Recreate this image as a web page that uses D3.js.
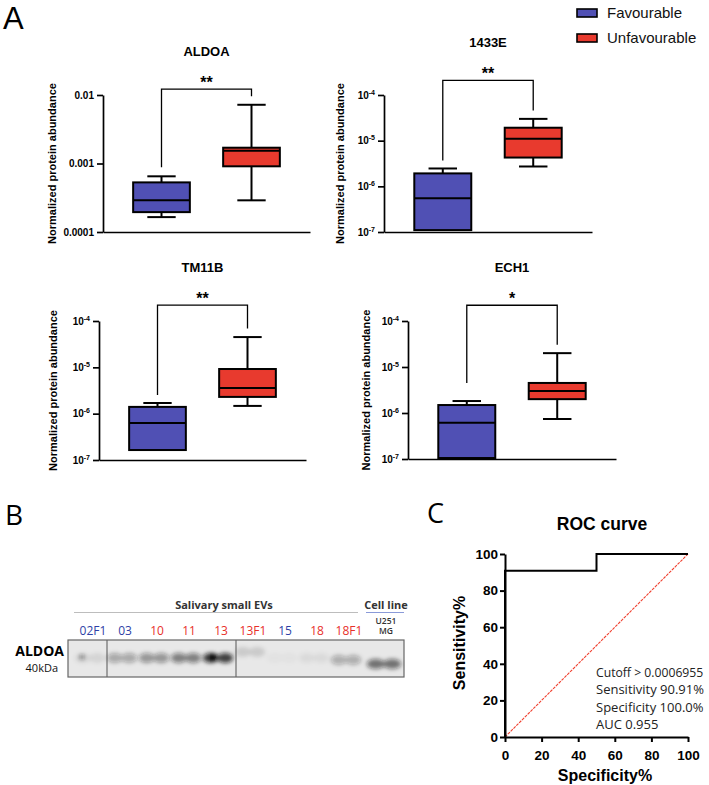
<!DOCTYPE html>
<html><head><meta charset="utf-8">
<script src="https://cdn.jsdelivr.net/npm/d3@7"></script>
<style>body{margin:0;background:#fff}</style>
</head><body><svg id="fig" width="709" height="785"></svg>
<script>
// ---------------- DATA ----------------
const groups = ["Favourable", "Unfavourable"];
const proteins = ["ALDOA", "1433E", "TM11B", "ECH1"];
// five-number summaries: [min, q1, median, q3, max]
const favourableStats = [
  [1.65e-4, 1.95e-4, 2.9e-4, 5.3e-4, 6.5e-4],
  [1.1e-7, 1.1e-7, 5.5e-7, 1.92e-6, 2.46e-6],
  [1.64e-7, 1.64e-7, 6.3e-7, 1.4e-6, 1.7e-6],
  [1.05e-7, 1.05e-7, 6.1e-7, 1.49e-6, 1.82e-6]
];
const unfavourableStats = [
  [2.9e-4, 9.1e-4, 1.54e-3, 1.7e-3, 7.2e-3],
  [2.72e-6, 4.27e-6, 1.1e-5, 1.92e-5, 3.0e-5],
  [1.47e-6, 2.3e-6, 3.6e-6, 9.2e-6, 4.5e-5],
  [7.4e-7, 2.0e-6, 3.0e-6, 4.5e-6, 2.0e-5]
];
const significance = ["**", "**", "**", "*"];
const bracketLevel = [0.0122, 2.1e-4, 2.2e-4, 2.2e-4];
const yDomains = [[1e-4, 1e-2], [1e-7, 1e-4], [1e-7, 1e-4], [1e-7, 1e-4]];
const yTickValues = [[1e-4, 1e-3, 1e-2], [1e-7, 1e-6, 1e-5, 1e-4], [1e-7, 1e-6, 1e-5, 1e-4], [1e-7, 1e-6, 1e-5, 1e-4]];
const aldoaTickLabels = ["0.0001", "0.001", "0.01"];
const yAxisTitle = "Normalized protein abundance";

// Western blot
const laneLabels = ["02F1", "03", "10", "11", "13", "13F1", "15", "18", "18F1"];
const laneGroup = ["Favourable", "Favourable", "Unfavourable", "Unfavourable", "Unfavourable", "Unfavourable", "Favourable", "Unfavourable", "Unfavourable"];
const laneIntensity = [0.1, 0.36, 0.46, 0.58, 0.92, 0.15, 0.03, 0.07, 0.33];
const cellLineLabel = ["U251", "MG"];
const cellLineIntensity = 0.66;

// ROC
const rocSpecificity = [0, 0, 50, 50, 100];
const rocSensitivity = [0, 90.91, 90.91, 100, 100];
const refSpecificity = [0, 100];
const refSensitivity = [0, 100];
const rocTicks = [0, 20, 40, 60, 80, 100];
const rocStats = ["Cutoff > 0.0006955", "Sensitivity 90.91%", "Specificity 100.0%", "AUC 0.955"];

// ---------------- STYLE / LAYOUT ----------------
const SANS = "'Liberation Sans', Arial, Helvetica, sans-serif";
const CAL = "'Open Sans', 'Noto Sans', sans-serif";
const colors = { Favourable: "#5050b4", Unfavourable: "#e83a2e" };
const textColors = { Favourable: "#2e3fa6", Unfavourable: "#e8302a" };

const frames = [
  { x0: 103, x1: 310, yTop: 95, yBot: 232, labelX: 56, legGap: 9 },
  { x0: 384, x1: 592, yTop: 95, yBot: 232, labelX: 344, legGap: 8 },
  { x0: 99, x1: 306, yTop: 321, yBot: 460, labelX: 57, legGap: 8 },
  { x0: 408, x1: 616, yTop: 321, yBot: 459, labelX: 370, legGap: 18 }
];

const svg = d3.select("#fig");

// Panel letters
svg.append("text").attr("x", 3).attr("y", 28.5).text("A")
  .style("font-family", SANS).style("font-size", "31px");
svg.append("text").attr("x", 5).attr("y", 525).text("B")
  .style("font-family", CAL).style("font-size", "28px");
svg.append("text").attr("x", 427).attr("y", 523).text("C")
  .style("font-family", CAL).style("font-size", "27px");

// Legend
groups.forEach((gname, k) => {
  const ly = 9 + k * 25;
  svg.append("rect").attr("x", 577).attr("y", ly).attr("width", 20).attr("height", 8)
    .attr("fill", colors[gname]).attr("stroke", "#000").attr("stroke-width", 1.6);
  svg.append("text").attr("x", 607).attr("y", ly + 9).text(gname)
    .style("font-family", SANS).style("font-size", "15px").attr("fill", "#111");
});

// ---------------- PANEL A ----------------
proteins.forEach((prot, i) => {
  const f = frames[i];
  const y = d3.scaleLog().domain(yDomains[i]).range([f.yBot, f.yTop]);
  const x = d3.scalePoint().domain(groups).range([f.x0, f.x1]).padding(0.65);
  const bw = x.step() * 0.63;
  const g = svg.append("g");

  const ya = g.append("g").attr("transform", `translate(${f.x0},0)`)
    .call(d3.axisLeft(y).tickValues(yTickValues[i]).tickSize(6).tickSizeOuter(0).tickPadding(3)
      .tickFormat(() => ""));
  ya.selectAll("text").each(function (d, k) {
    const t = d3.select(this).style("font-family", SANS).style("font-weight", "bold")
      .style("font-size", "10px").attr("fill", "#000");
    if (i === 0) {
      t.text(aldoaTickLabels[k]);
    } else {
      const e = Math.round(Math.log10(d));
      t.append("tspan").text("10");
      t.append("tspan").attr("dy", "-4").style("font-size", "7px").text(String(e));
    }
  });
  const xa = g.append("g").attr("transform", `translate(0,${f.yBot})`)
    .call(d3.axisBottom(x).tickValues([]).tickSizeOuter(0));
  [ya, xa].forEach(a => {
    a.select(".domain").attr("stroke", "#000").attr("stroke-width", 1.7);
    a.selectAll(".tick line").attr("stroke", "#000").attr("stroke-width", 1.7);
  });

  const statsList = [favourableStats[i], unfavourableStats[i]];
  groups.forEach((gname, j) => {
    const [mn, q1, md, q3, mx] = statsList[j];
    const cx = x(gname);
    const ln = (x1, y1, x2, y2) => g.append("line").attr("x1", x1).attr("y1", y1).attr("x2", x2).attr("y2", y2)
      .attr("stroke", "#000").attr("stroke-width", 2);
    ln(cx, y(q3), cx, y(mx));
    ln(cx - bw / 4, y(mx), cx + bw / 4, y(mx));
    if (mn < q1) {
      ln(cx, y(q1), cx, y(mn));
      ln(cx - bw / 4, y(mn), cx + bw / 4, y(mn));
    }
    g.append("rect").attr("x", cx - bw / 2).attr("y", y(q3)).attr("width", bw)
      .attr("height", y(q1) - y(q3)).attr("fill", colors[gname])
      .attr("stroke", "#000").attr("stroke-width", 2);
    ln(cx - bw / 2, y(md), cx + bw / 2, y(md));
  });

  const xl = x(groups[0]), xr = x(groups[1]);
  const yb = y(bracketLevel[i]);
  const legL = y(favourableStats[i][4]) - f.legGap;
  const legR = y(unfavourableStats[i][4]) - 8.5;
  g.append("path").attr("d", `M${xl},${legL}V${yb}H${xr}V${legR}`)
    .attr("fill", "none").attr("stroke", "#000").attr("stroke-width", 1.3);
  g.append("text").attr("x", (xl + xr) / 2).attr("y", yb - 1.5).attr("text-anchor", "middle")
    .text(significance[i]).style("font-family", SANS).style("font-weight", "bold").style("font-size", "16px");

  g.append("text").attr("x", (f.x0 + f.x1) / 2).attr("y", yb - 33).attr("text-anchor", "middle")
    .text(prot).style("font-family", SANS).style("font-weight", "bold").style("font-size", "13px");

  g.append("text").attr("transform", `translate(${f.labelX},${(f.yTop + f.yBot) / 2}) rotate(-90)`)
    .attr("text-anchor", "middle").text(yAxisTitle)
    .style("font-family", SANS).style("font-weight", "bold").style("font-size", "11px");
});

// ---------------- PANEL B (western blot) ----------------
const gb = svg.append("g");
const defs = svg.append("defs");
defs.append("filter").attr("id", "blur").attr("x", "-50%").attr("y", "-50%").attr("width", "200%").attr("height", "200%")
  .append("feGaussianBlur").attr("stdDeviation", 2.3);

gb.append("text").attr("x", 224).attr("y", 609).attr("text-anchor", "middle").text("Salivary small EVs")
  .style("font-family", CAL).style("font-weight", "bold").style("font-size", "11px").attr("fill", "#333");
gb.append("line").attr("x1", 74).attr("x2", 358).attr("y1", 612.5).attr("y2", 612.5).attr("stroke", "#bdbdbd").attr("stroke-width", 1);
gb.append("text").attr("x", 386).attr("y", 609).attr("text-anchor", "middle").text("Cell line")
  .style("font-family", CAL).style("font-weight", "bold").style("font-size", "11px").attr("fill", "#333");
gb.append("line").attr("x1", 366).attr("x2", 404).attr("y1", 612.5).attr("y2", 612.5).attr("stroke", "#8a9ad8").attr("stroke-width", 1);

const lx = d3.scalePoint().domain(laneLabels).range([93, 349]);
const cellX = 386;
laneLabels.forEach((lab, k) => {
  gb.append("text").attr("x", lx(lab)).attr("y", 635).attr("text-anchor", "middle").text(lab)
    .style("font-family", CAL).style("font-size", "12px").attr("fill", textColors[laneGroup[k]]);
});
cellLineLabel.forEach((lab, k) => {
  gb.append("text").attr("x", cellX).attr("y", 623.5 + k * 10.5).attr("text-anchor", "middle").text(lab)
    .style("font-family", CAL).style("font-weight", "600").style("font-size", "8.5px").attr("fill", "#333");
});

gb.append("text").attr("x", 64).attr("y", 656).attr("text-anchor", "end").text("ALDOA")
  .style("font-family", CAL).style("font-weight", "bold").style("font-size", "14px").attr("fill", "#000");
gb.append("text").attr("x", 58).attr("y", 672).attr("text-anchor", "end").text("40kDa")
  .style("font-family", CAL).style("font-size", "11px").attr("fill", "#111");

const blotX0 = 68, blotX1 = 404, blotY0 = 640, blotY1 = 677;
gb.append("rect").attr("x", blotX0).attr("y", blotY0).attr("width", blotX1 - blotX0).attr("height", blotY1 - blotY0)
  .attr("fill", "#e8e8e8");
const bands = gb.append("g").attr("filter", "url(#blur)");
const laneYOffset = [0, 0, 0, 0, 0, -6, 0, 0, 2];
function band(cx, cy, inten, w) {
  [-1, 1].forEach(s => {
    bands.append("ellipse").attr("cx", cx + s * w * 0.33).attr("cy", cy).attr("rx", w * 0.36).attr("ry", 5)
      .attr("fill", "#151515").attr("opacity", inten * 0.85);
  });
}
laneLabels.forEach((lab, k) => band(lx(lab) - 3, 658 + laneYOffset[k], laneIntensity[k], 22));
band(cellX - 2, 664, cellLineIntensity, 25);
bands.append("circle").attr("cx", lx("13") - 8).attr("cy", 657).attr("r", 3.5).attr("fill", "#000");
bands.append("circle").attr("cx", lx("02F1") - 11).attr("cy", 657).attr("r", 1.8).attr("fill", "#222");
gb.append("line").attr("x1", 107).attr("x2", 107).attr("y1", blotY0).attr("y2", blotY1).attr("stroke", "#555").attr("stroke-width", 1);
gb.append("line").attr("x1", 236).attr("x2", 236).attr("y1", blotY0).attr("y2", blotY1).attr("stroke", "#555").attr("stroke-width", 1);
gb.append("rect").attr("x", blotX0).attr("y", blotY0).attr("width", blotX1 - blotX0).attr("height", blotY1 - blotY0)
  .attr("fill", "none").attr("stroke", "#666").attr("stroke-width", 1.2);

// ---------------- PANEL C (ROC) ----------------
const gc = svg.append("g");
const rx = d3.scaleLinear().domain([0, 100]).range([505, 688]);
const ry = d3.scaleLinear().domain([0, 100]).range([737, 554]);

gc.append("text").attr("x", 602).attr("y", 530).attr("text-anchor", "middle").text("ROC curve")
  .style("font-family", SANS).style("font-weight", "bold").style("font-size", "17.5px");

const line = d3.line().x(d => rx(d[0])).y(d => ry(d[1]));
gc.append("path").datum(refSpecificity.map((v, k) => [v, refSensitivity[k]])).attr("d", line)
  .attr("fill", "none").attr("stroke", "#f0402f").attr("stroke-width", 1.1).attr("stroke-dasharray", "3,1");
gc.append("path").datum(rocSpecificity.map((v, k) => [v, rocSensitivity[k]])).attr("d", line)
  .attr("fill", "none").attr("stroke", "#000").attr("stroke-width", 2);

const xAx = gc.append("g").attr("transform", `translate(0,${ry(0)})`)
  .call(d3.axisBottom(rx).tickValues(rocTicks).tickSize(5).tickSizeOuter(0).tickPadding(8));
const yAx = gc.append("g").attr("transform", `translate(${rx(0)},0)`)
  .call(d3.axisLeft(ry).tickValues(rocTicks).tickSize(5).tickSizeOuter(0).tickPadding(2));
[xAx, yAx].forEach(a => {
  a.select(".domain").attr("stroke", "#000").attr("stroke-width", 2);
  a.selectAll(".tick line").attr("stroke", "#000").attr("stroke-width", 2);
  a.selectAll("text").style("font-family", SANS).style("font-weight", "bold").style("font-size", "13.5px").attr("fill", "#000");
});

gc.append("text").attr("x", 605).attr("y", 781).attr("text-anchor", "middle").text("Specificity%")
  .style("font-family", SANS).style("font-weight", "bold").style("font-size", "16px");
gc.append("text").attr("transform", `translate(465,643) rotate(-90)`).attr("text-anchor", "middle").text("Sensitivity%")
  .style("font-family", SANS).style("font-weight", "bold").style("font-size", "16px");

const statSizes = [12.2, 13, 13, 13];
rocStats.forEach((s, k) => {
  gc.append("text").attr("x", 596).attr("y", 677 + k * 17.3).text(s)
    .style("font-family", CAL).style("font-size", statSizes[k] + "px").attr("fill", "#222");
});
</script>
</body></html>
